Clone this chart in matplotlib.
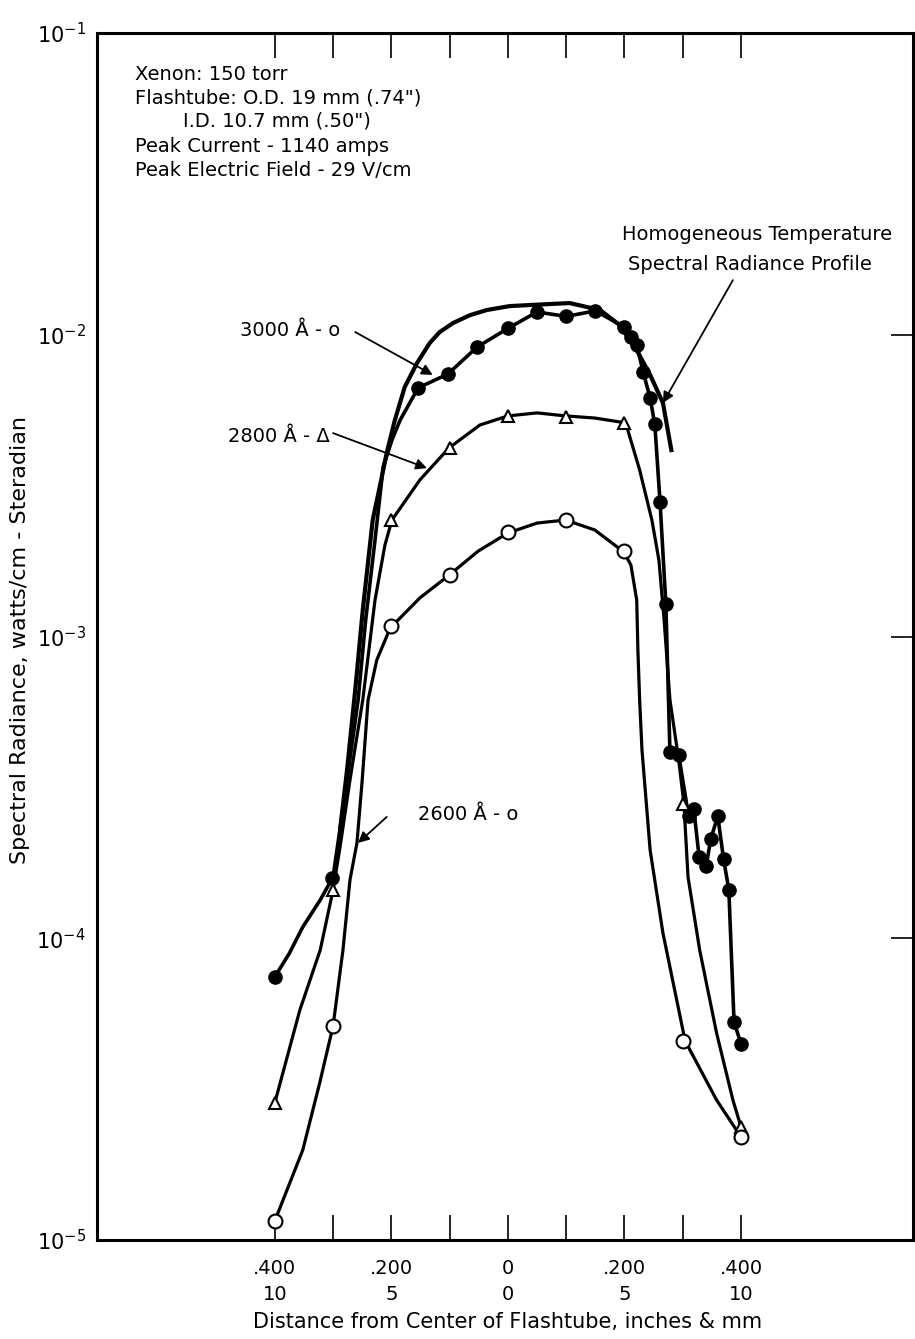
import matplotlib
matplotlib.use("Agg")
import matplotlib.pyplot as plt
import numpy as np

plt.rcParams['font.family'] = ['DejaVu Sans']
plt.rcParams['mathtext.default'] = 'regular'

# measured points (distance in inches, radiance in watts/cm-sr)
x_3000 = [-0.400, -0.302, -0.154, -0.103, -0.053, 0.0, 0.05, 0.10, 0.15, 0.20,
          0.211, 0.221, 0.232, 0.244, 0.252, 0.261, 0.271, 0.278, 0.293, 0.310,
          0.319, 0.328, 0.340, 0.348, 0.360, 0.370, 0.379, 0.388, 0.400]
y_3000 = [7.45e-5, 1.58e-4, 6.67e-3, 7.41e-3, 9.10e-3, 1.05e-2, 1.19e-2, 1.15e-2,
          1.20e-2, 1.06e-2, 9.84e-3, 9.25e-3, 7.53e-3, 6.17e-3, 5.06e-3, 2.79e-3,
          1.28e-3, 4.14e-4, 4.05e-4, 2.54e-4, 2.68e-4, 1.86e-4, 1.73e-4, 2.13e-4,
          2.54e-4, 1.83e-4, 1.45e-4, 5.27e-5, 4.47e-5]

x_grid = [-0.4, -0.3, -0.2, -0.1, 0.0, 0.1, 0.2, 0.3, 0.4]
y_2800 = [2.84e-5, 1.44e-4, 2.43e-3, 4.22e-3, 5.38e-3, 5.33e-3, 5.10e-3, 2.79e-4, 2.37e-5]
y_2600 = [1.16e-5, 5.12e-5, 1.08e-3, 1.60e-3, 2.22e-3, 2.43e-3, 1.92e-3, 4.57e-5, 2.19e-5]

# hand drawn curves (x in inches, log10 of radiance)
c3000_x = [-0.400, -0.375, -0.352, -0.322, -0.300, -0.276, -0.257, -0.244, -0.228,
           -0.214, -0.199, -0.185, -0.154] + x_3000[3:]
c3000_log = [-4.128, -4.050, -3.963, -3.873, -3.797, -3.476, -3.210, -2.945, -2.680,
             -2.438, -2.349, -2.283, -2.176] + list(np.log10(y_3000[3:]))

c2800_x = [-0.400, -0.357, -0.322, -0.300, -0.288, -0.271, -0.249, -0.228, -0.211,
           -0.199, -0.151, -0.101, -0.048, 0.0, 0.050, 0.099, 0.149, 0.202, 0.226,
           0.247, 0.259, 0.268, 0.278, 0.293, 0.302, 0.309, 0.329, 0.358, 0.386, 0.400]
c2800_log = [-4.546, -4.238, -4.039, -3.840, -3.698, -3.476, -3.210, -2.879, -2.697,
             -2.614, -2.481, -2.375, -2.299, -2.269, -2.259, -2.269, -2.276, -2.292,
             -2.448, -2.614, -2.746, -2.945, -3.210, -3.409, -3.555, -3.797, -4.039,
             -4.314, -4.536, -4.626]

c2600_x = [-0.400, -0.352, -0.323, -0.300, -0.283, -0.271, -0.259, -0.250, -0.240,
           -0.225, -0.202, -0.151, -0.103, -0.051, 0.0, 0.050, 0.099, 0.149, 0.199,
           0.211, 0.221, 0.223, 0.226, 0.230, 0.244, 0.266, 0.304, 0.358, 0.400]
c2600_log = [-4.937, -4.702, -4.480, -4.291, -4.039, -3.807, -3.684, -3.476, -3.211,
             -3.078, -2.972, -2.872, -2.800, -2.717, -2.657, -2.624, -2.614, -2.647,
             -2.720, -2.763, -2.879, -3.045, -3.210, -3.376, -3.708, -3.983, -4.340,
             -4.536, -4.659]

hom_x = [-0.288, -0.276, -0.262, -0.249, -0.232, -0.220, -0.208, -0.194, -0.177,
         -0.156, -0.134, -0.117, -0.094, -0.065, -0.036, 0.003, 0.043, 0.106, 0.158,
         0.192, 0.221, 0.244, 0.266, 0.281]
hom_log = [-3.641, -3.442, -3.177, -2.912, -2.614, -2.505, -2.392, -2.283, -2.173,
           -2.094, -2.027, -1.991, -1.961, -1.935, -1.918, -1.905, -1.901, -1.895, -1.918,
           -1.968, -2.051, -2.133, -2.226, -2.389]

xtick_pos = [-0.4, -0.2, 0.0, 0.2, 0.4]
xtick_labels = [".400\n10", ".200\n5", "0\n0", ".200\n5", ".400\n10"]
xminor_pos = [-0.3, -0.1, 0.1, 0.3]

W, H = 915, 1339
fig = plt.figure(figsize=(W / 100, H / 100), dpi=100)
ax = fig.add_axes([97 / W, 1 - 1240 / H, (913 - 97) / W, (1240 - 33) / H])


def px(x, y):
    return x / W, 1 - y / H


ax.set_yscale('log')
ax.set_xlim(-0.705, 0.695)
ax.set_ylim(1e-5, 1e-1)

ax.plot(hom_x, 10.0 ** np.array(hom_log), color='black', lw=3.0, solid_capstyle='butt')
ax.plot(c3000_x, 10.0 ** np.array(c3000_log), color='black', lw=2.6)
ax.plot(c2800_x, 10.0 ** np.array(c2800_log), color='black', lw=2.3)
ax.plot(c2600_x, 10.0 ** np.array(c2600_log), color='black', lw=2.3)

ax.plot(x_3000, y_3000, 'o', color='black', ms=9.5, ls='none', zorder=5)
ax.plot(x_grid, y_2800, '^', mfc='white', mec='black', mew=1.5, ms=9, ls='none', zorder=5)
ax.plot(x_grid, y_2600, 'o', mfc='white', mec='black', mew=1.5, ms=10, ls='none', zorder=5)

for s in ax.spines.values():
    s.set_linewidth(2.2)

ax.set_xticks(xtick_pos)
ax.set_xticklabels(xtick_labels, fontsize=14, linespacing=1.45)
ax.set_xticks(xminor_pos, minor=True)
ax.tick_params(axis='x', which='both', direction='in', top=True, bottom=True,
               length=18, width=1.2, pad=14)

ax.yaxis.set_major_locator(matplotlib.ticker.FixedLocator([1e-5, 1e-4, 1e-3, 1e-2, 1e-1]))
ax.yaxis.set_minor_locator(matplotlib.ticker.NullLocator())
ax.set_yticklabels([r'$10^{-5}$', r'$10^{-4}$', r'$10^{-3}$', r'$10^{-2}$', r'$10^{-1}$'],
                   fontsize=15)
ax.tick_params(axis='y', which='major', direction='in', left=False, right=True,
               labelleft=True, length=16, width=1.2, pad=8)

fig.text(*px(508, 1322), "Distance from Center of Flashtube, inches & mm",
         fontsize=15, ha='center', va='center')
fig.text(*px(20, 640), "Spectral Radiance, watts/cm - Steradian",
         fontsize=16, ha='center', va='center', rotation=90)

info = [(135, 75, "Xenon: 150 torr"),
        (135, 98, "Flashtube: O.D. 19 mm (.74\")"),
        (183, 121, "I.D. 10.7 mm (.50\")"),
        (135, 146, "Peak Current - 1140 amps"),
        (135, 171, "Peak Electric Field - 29 V/cm")]
for x, y, t in info:
    fig.text(*px(x, y), t, fontsize=14, ha='left', va='center')

fig.text(*px(622, 235), "Homogeneous Temperature", fontsize=14, ha='left', va='center')
fig.text(*px(628, 265), "Spectral Radiance Profile", fontsize=14, ha='left', va='center')

fig.text(*px(340, 330), "3000 Å - o", fontsize=14, ha='right', va='center')
fig.text(*px(330, 437), "2800 Å - Δ", fontsize=14, ha='right', va='center')
fig.text(*px(418, 815), "2600 Å - o", fontsize=14, ha='left', va='center')

arrow = dict(arrowstyle='-|>', lw=1.3, color='black', mutation_scale=16,
             shrinkA=0, shrinkB=0)
ax.annotate("", xy=(-0.129, 10 ** -2.133), xytext=(-0.262, 10 ** -1.991), arrowprops=arrow)
ax.annotate("", xy=(-0.139, 10 ** -2.442), xytext=(-0.300, 10 ** -2.326), arrowprops=arrow)
ax.annotate("", xy=(-0.257, 10 ** -3.684), xytext=(-0.208, 10 ** -3.598), arrowprops=arrow)
ax.annotate("", xy=(0.266, 10 ** -2.226), xytext=(0.386, 10 ** -1.819), arrowprops=arrow)

fig.savefig("out.png", dpi=100)
